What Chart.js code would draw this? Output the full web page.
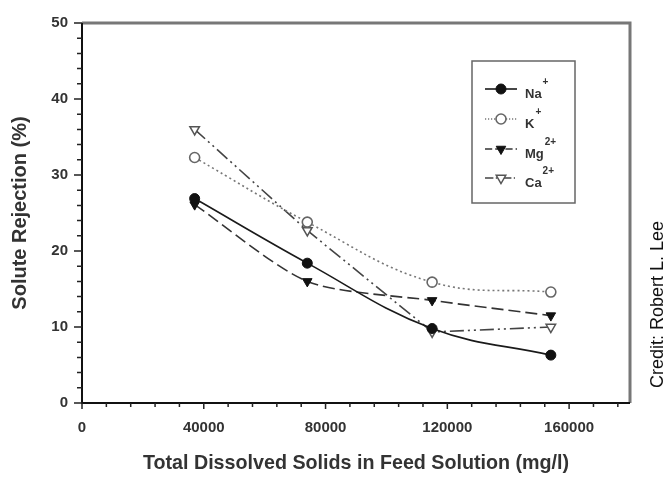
<!DOCTYPE html>
<html>
<head>
<meta charset="utf-8">
<script src="https://cdn.jsdelivr.net/npm/chart.js@4/dist/chart.umd.min.js"></script>
<style>
  html, body { margin: 0; padding: 0; background: #fff; }
  #wrap { width: 665px; height: 477px; }
</style>
</head>
<body>
<div id="wrap"><canvas id="c" width="665" height="477"></canvas></div>
<script>
// ---- data ----
const tds = [37000, 74000, 115000, 154000];
const naRej = [26.9, 18.4, 9.8, 6.3];
const kRej  = [32.3, 23.8, 15.9, 14.6];
const mgRej = [26.1, 16.0, 13.5, 11.5];
const caRej = [36.0, 22.7, 9.35, 10.0];
const ionNames = ['Na', 'K', 'Mg', 'Ca'];
const ionCharges = ['+', '+', '2+', '2+'];
const xMajorStep = 40000;
const xMinorStep = 8000;
const yMajorStep = 10;
const yMinorStep = 2;
const xTitle = 'Total Dissolved Solids in Feed Solution (mg/l)';
const yTitle = 'Solute Rejection (%)';
const credit = 'Credit: Robert L. Lee';

const FONT = '"Liberation Sans", Arial, sans-serif';

function pts(ys) { return tds.map((x, i) => ({ x: x, y: ys[i] })); }
function isMajor(v, step) { const r = Math.abs(v % step); return r < 1e-6 || Math.abs(r - step) < 1e-6; }

const datasets = [
  { label: 'Na+', data: pts(naRej), borderColor: '#1a1a1a', backgroundColor: '#111', borderWidth: 1.6,
    borderDash: [], tension: 0.4, pointStyle: 'circle', pointRadius: 5, pointRotation: 0,
    pointBackgroundColor: '#111', pointBorderColor: '#111', pointBorderWidth: 1 },
  { label: 'K+', data: pts(kRej), borderColor: '#777', backgroundColor: '#fff', borderWidth: 1.6,
    borderDash: [2, 3], tension: 0.4, pointStyle: 'circle', pointRadius: 5, pointRotation: 0,
    pointBackgroundColor: '#fff', pointBorderColor: '#666', pointBorderWidth: 1.6 },
  { label: 'Mg2+', data: pts(mgRej), borderColor: '#333', backgroundColor: '#111', borderWidth: 1.6,
    borderDash: [12, 5], tension: 0.25, pointStyle: 'triangle', pointRadius: 5.5, pointRotation: 180,
    pointBackgroundColor: '#111', pointBorderColor: '#111', pointBorderWidth: 1 },
  { label: 'Ca2+', data: pts(caRej), borderColor: '#444', backgroundColor: '#fff', borderWidth: 1.6,
    borderDash: [14, 4, 2, 4, 2, 4], tension: 0, pointStyle: 'triangle', pointRadius: 5.5, pointRotation: 180,
    pointBackgroundColor: '#fff', pointBorderColor: '#555', pointBorderWidth: 1.5 }
];

const framePlugin = {
  id: 'frame',
  afterDraw(chart) {
    const ctx = chart.ctx;
    const a = chart.chartArea;
    const xs = chart.scales.x, ys = chart.scales.y;
    ctx.save();
    // top & right border (grey)
    ctx.strokeStyle = '#777';
    ctx.lineWidth = 3;
    ctx.beginPath();
    ctx.moveTo(a.left, a.top);
    ctx.lineTo(a.right, a.top);
    ctx.lineTo(a.right, a.bottom);
    ctx.stroke();
    // left & bottom axes
    ctx.strokeStyle = '#111';
    ctx.lineWidth = 2;
    ctx.beginPath();
    ctx.moveTo(a.left, a.top);
    ctx.lineTo(a.left, a.bottom);
    ctx.lineTo(a.right, a.bottom);
    ctx.stroke();
    // ticks
    ctx.lineWidth = 1.5;
    ctx.strokeStyle = '#222';
    ctx.beginPath();
    xs.ticks.forEach(t => {
      if (t.value > xs.max - 1) return;
      const px = xs.getPixelForValue(t.value);
      const len = isMajor(t.value, xMajorStep) ? 6 : 4;
      ctx.moveTo(px, a.bottom);
      ctx.lineTo(px, a.bottom + len);
    });
    ys.ticks.forEach(t => {
      const py = ys.getPixelForValue(t.value);
      const len = isMajor(t.value, yMajorStep) ? 8 : 5;
      ctx.moveTo(a.left, py);
      ctx.lineTo(a.left - len, py);
    });
    ctx.stroke();

    // legend
    const bx = a.right - 158, by = a.top + 38, bw = 103, bh = 142;
    ctx.strokeStyle = '#666';
    ctx.lineWidth = 1.5;
    ctx.strokeRect(bx, by, bw, bh);
    const rowY = [28, 58, 88, 117];
    chart.data.datasets.forEach((ds, i) => {
      const y = by + rowY[i];
      ctx.save();
      ctx.strokeStyle = ds.borderColor;
      ctx.lineWidth = ds.borderWidth;
      ctx.setLineDash(ds.borderDash.length ? ds.borderDash.map(v => Math.max(1, v * 0.6)) : []);
      ctx.beginPath();
      ctx.moveTo(bx + 13, y);
      ctx.lineTo(bx + 45, y);
      ctx.stroke();
      ctx.restore();
      ctx.save();
      ctx.fillStyle = ds.pointBackgroundColor;
      ctx.strokeStyle = ds.pointBorderColor;
      ctx.lineWidth = ds.pointBorderWidth;
      Chart.helpers.drawPoint(ctx, { pointStyle: ds.pointStyle, rotation: ds.pointRotation,
        radius: ds.pointRadius, borderWidth: ds.pointBorderWidth }, bx + 29, y);
      ctx.restore();
      ctx.fillStyle = '#333';
      ctx.textAlign = 'left';
      ctx.textBaseline = 'middle';
      ctx.font = 'bold 13px ' + FONT;
      ctx.fillText(ionNames[i], bx + 53, y + 5);
      const w = ctx.measureText(ionNames[i]).width;
      ctx.font = 'bold 10px ' + FONT;
      ctx.fillText(ionCharges[i], bx + 54 + w, y - 7);
    });

    // credit
    ctx.save();
    ctx.translate(658, 304.5);
    ctx.rotate(-Math.PI / 2);
    ctx.fillStyle = '#111';
    ctx.font = '18px ' + FONT;
    ctx.textAlign = 'center';
    ctx.textBaseline = 'middle';
    ctx.fillText(credit, 0, 0);
    ctx.restore();
    ctx.restore();
  }
};

function stepTicks(scale, step) {
  const out = [];
  for (let v = scale.min; v <= scale.max + 1e-9; v += step) out.push({ value: Math.round(v * 1000) / 1000 });
  scale.ticks = out;
}

new Chart(document.getElementById('c'), {
  type: 'line',
  data: { datasets: datasets },
  options: {
    responsive: false,
    devicePixelRatio: 1,
    animation: false,
    layout: { padding: { top: 22, right: 35, left: 0, bottom: 0 } },
    plugins: { legend: { display: false }, tooltip: { enabled: false } },
    scales: {
      x: {
        type: 'linear', min: 0, max: 180000,
        afterBuildTicks: s => stepTicks(s, xMinorStep),
        afterFit: s => { s.height = 74; },
        grid: { display: false, drawTicks: false },
        border: { display: false },
        ticks: {
          autoSkip: false, maxRotation: 0, minRotation: 0, padding: 16,
          color: '#333', font: { family: FONT, size: 15, weight: 'bold' },
          callback: v => (isMajor(v, xMajorStep) ? String(v) : '')
        },
        title: { display: true, text: xTitle, color: '#333',
          font: { family: FONT, size: 19.7, weight: 'bold' }, padding: { top: 0, bottom: 2 } }
      },
      y: {
        type: 'linear', min: 0, max: 50,
        afterBuildTicks: s => stepTicks(s, yMinorStep),
        afterFit: s => { s.width = 82; },
        grid: { display: false, drawTicks: false },
        border: { display: false },
        ticks: {
          autoSkip: false, padding: 14,
          color: '#333', font: { family: FONT, size: 15, weight: 'bold' },
          callback: v => (isMajor(v, yMajorStep) ? String(v) : '')
        },
        title: { display: true, text: yTitle, color: '#333',
          font: { family: FONT, size: 20, weight: 'bold' }, padding: { top: 8.5, bottom: 0 } }
      }
    }
  },
  plugins: [framePlugin]
});
</script>
</body>
</html>
